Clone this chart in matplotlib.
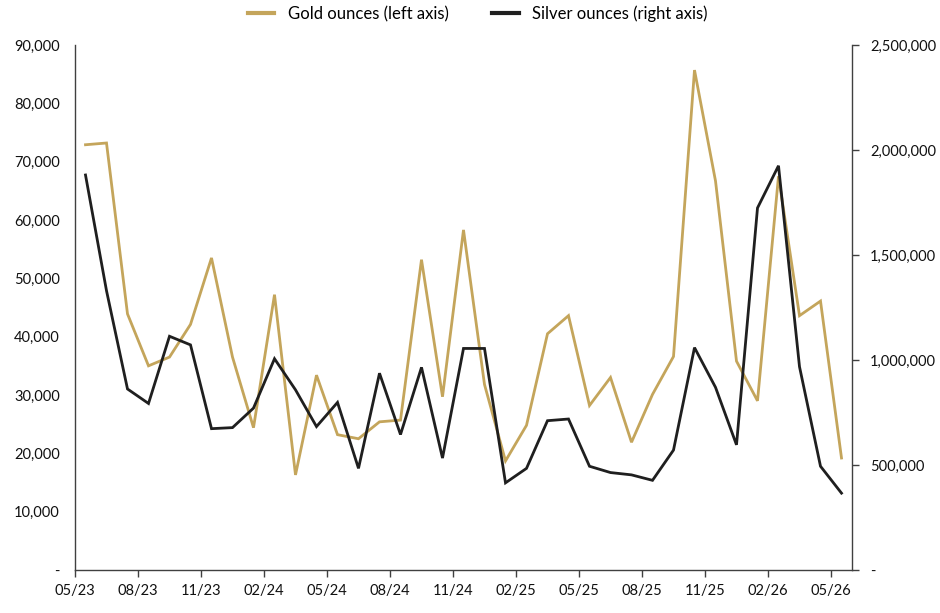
import matplotlib
matplotlib.use("Agg")
import matplotlib.pyplot as plt
from matplotlib.ticker import FuncFormatter, MultipleLocator, FixedLocator
import numpy as np

plt.rcParams['font.family'] = ['Lato', 'DejaVu Sans']

# Monthly data 05/23 .. 05/26
months = ["05/23", "06/23", "07/23", "08/23", "09/23", "10/23", "11/23", "12/23",
          "01/24", "02/24", "03/24", "04/24", "05/24", "06/24", "07/24", "08/24",
          "09/24", "10/24", "11/24", "12/24", "01/25", "02/25", "03/25", "04/25",
          "05/25", "06/25", "07/25", "08/25", "09/25", "10/25", "11/25", "12/25",
          "01/26", "02/26", "03/26", "04/26", "05/26"]

gold_oz = [72900, 73200, 43900, 35000, 36500, 42100, 53500, 36500,
           24400, 47200, 16300, 33400, 23200, 22500, 25400, 25700,
           53200, 29700, 58300, 31800, 18700, 24800, 40500, 43600,
           28200, 33000, 21900, 30100, 36600, 85700, 66700, 35800,
           29000, 67500, 43600, 46100, 19200]

silver_oz = [1881000, 1330000, 862000, 793000, 1113000, 1072000, 673000, 678000,
             771000, 1006000, 858000, 683000, 798000, 484000, 937000, 645000,
             965000, 533000, 1055000, 1055000, 415000, 484000, 711000, 719000,
             494000, 464000, 453000, 427000, 571000, 1059000, 870000, 596000,
             1724000, 1925000, 968000, 494000, 366000]

tick_labels = ["05/23", "08/23", "11/23", "02/24", "05/24", "08/24", "11/24",
               "02/25", "05/25", "08/25", "11/25", "02/26", "05/26"]

gold_color = "#C4A55B"
silver_color = "#1F1F1F"
axis_color = "#404040"

fig = plt.figure(figsize=(9.4, 6.13), dpi=100)
ax = fig.add_axes([75/940, 43/613, (852-75)/940, (570-45)/613])
ax2 = ax.twinx()

x = np.arange(len(months)) + 0.5
l1, = ax.plot(x, gold_oz, color=gold_color, lw=2.0, label="Gold ounces (left axis)",
              solid_joinstyle='miter')
l2, = ax2.plot(x, silver_oz, color=silver_color, lw=2.0, label="Silver ounces (right axis)",
               solid_joinstyle='miter')

ax.set_xlim(0, 37)
ax.set_ylim(0, 90000)
ax2.set_ylim(0, 2500000)
ax.yaxis.set_major_locator(MultipleLocator(10000))
ax2.yaxis.set_major_locator(MultipleLocator(500000))

def fmt(v, pos):
    if abs(v) < 1e-6:
        return "-"
    return f"{int(round(v)):,}"

ax.yaxis.set_major_formatter(FuncFormatter(fmt))
ax2.yaxis.set_major_formatter(FuncFormatter(fmt))

ax.xaxis.set_major_locator(FixedLocator(np.arange(0, 37, 3)))
ax.set_xticklabels(tick_labels)

for a in (ax, ax2):
    a.spines['top'].set_visible(False)
    for s in ('left', 'right', 'bottom'):
        a.spines[s].set_color(axis_color)
        a.spines[s].set_linewidth(1.0)

ax.spines['right'].set_visible(False)
ax2.spines['left'].set_visible(False)
ax2.spines['bottom'].set_visible(False)

ax.tick_params(axis='y', length=0, pad=11, labelsize=10.5, colors='#111111')
ax.tick_params(axis='x', length=5, width=1, color=axis_color, pad=5, labelsize=10.5,
               labelcolor='#111111')
ax2.tick_params(axis='y', length=5, width=1, color=axis_color, pad=8, labelsize=10.5,
                labelcolor='#111111')

leg = fig.legend(handles=[l1, l2], loc='center', bbox_to_anchor=(0.508, 1 - 14/613), ncol=2,
                 frameon=False, fontsize=12, handlelength=1.6, columnspacing=2.6,
                 handletextpad=0.8)
for h in leg.get_lines():
    h.set_linewidth(3.0)

fig.savefig("out.png", dpi=100)
